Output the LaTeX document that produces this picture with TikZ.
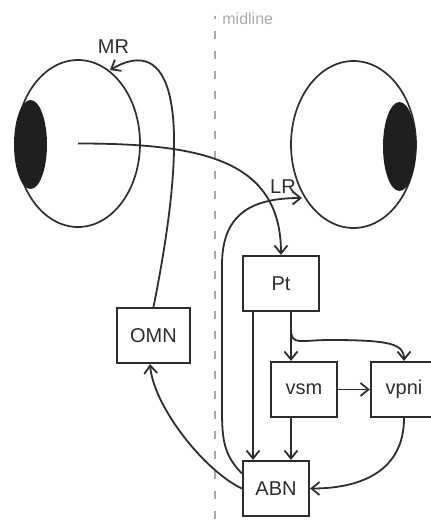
\documentclass[tikz,border=0pt]{standalone}
\usepackage{fontspec}
\setmainfont{Liberation Sans}
\usetikzlibrary{arrows.meta,calc}
\definecolor{ink}{RGB}{45,45,45}
\definecolor{midgray}{RGB}{170,170,170}
\begin{document}
\begin{tikzpicture}[x=0.5pt,y=-0.5pt,
  box/.style={draw=ink,line width=1.1pt,minimum height=27.5pt,inner sep=0pt,font=\fontsize{10}{12}\selectfont,text=ink},
  lowbox/.style={box,text height=1ex,text depth=0pt},
  conn/.style={draw=ink,line width=0.9pt,-{Straight Barb[length=4pt,width=6.5pt,line width=0.9pt]}},
  eye/.style={draw=ink,line width=0.85pt},
  pupil/.style={fill=black!88},
  lbl/.style={font=\fontsize{10}{12}\selectfont,text=ink,inner sep=0pt}]
\useasboundingbox (0,0) rectangle (431,526);
\clip (0,0) rectangle (431,526);
% eyes
\draw[eye] (78,143.5) ellipse [x radius=31pt, y radius=41.75pt];
\fill[pupil] (30.5,144.5) ellipse [x radius=8.25pt, y radius=22.25pt];
\draw[eye] (353.5,144.5) ellipse [x radius=31.25pt, y radius=41.75pt];
\fill[pupil] (399.5,146.5) ellipse [x radius=8.25pt, y radius=22.25pt];
% midline
\draw[midgray,line width=1.1pt,dash pattern=on 4.35pt off 5.65pt,dash phase=2.5pt] (215,15.7) -- (215,530);
\node[font=\fontsize{8}{10}\selectfont,text=midgray,anchor=base west,inner sep=0pt] (midlbl) at (222,24) {midline};
% nodes
\node[box,minimum width=38pt] (Pt) at (281,283.5) {Pt};
\node[box,minimum width=36.5pt] (OMN) at (153.5,335.5) {OMN};
\node[lowbox,minimum width=33pt] (vsm) at (304,389.5) {vsm};
\node[lowbox,minimum width=33pt] (vpni) at (404,389.5) {vpni};
\node[box,minimum width=33pt] (ABN) at (276,488.5) {ABN};
% labels
\node[lbl] (MR) at (113.5,47) {MR};
\node[lbl] (LR) at (283,187) {LR};
% coordinates
\coordinate (eyeC) at (78,143.5);
\coordinate (MRtip) at (110,70);
\coordinate (LRtip) at (302,198);
\coordinate (c291) at (291,0);
\coordinate (c253) at (253,0);
\coordinate (bend) at (330,340);
% connectors
\draw[conn] (eyeC) .. controls +(122,0) and +(0,-96) .. (Pt.north);
\draw[conn] (OMN.north) .. controls (195,100) and (170,35) .. (MRtip);
\draw[conn] ([yshift=7.5pt]ABN.west) .. controls (224,455) and (222,440) .. (222,410) -- (222,265) .. controls (222,215) and (250,198) .. (LRtip);
\draw[conn] (Pt.south -| c253) -- (ABN.north -| c253);
\draw[conn] (Pt.south -| c291) -- (vsm.north -| c291);
\draw[conn] (vsm.south -| c291) -- (ABN.north -| c291);
\draw[conn] (vsm.east) -- (vpni.west);
\draw[conn] (Pt.south -| c291) -- ++(0,17) .. controls +(0,17) and +(-30,0) .. (bend) .. controls +(60,0) and +(0,-17) .. (vpni.north);
\draw[conn] (vpni.south) .. controls +(0,53) and +(51,0) .. (ABN.east);
\draw[conn] (ABN.west) .. controls +(-38,-18) and +(3.5,42) .. ([xshift=-1.75pt]OMN.south);
\end{tikzpicture}
\end{document}
